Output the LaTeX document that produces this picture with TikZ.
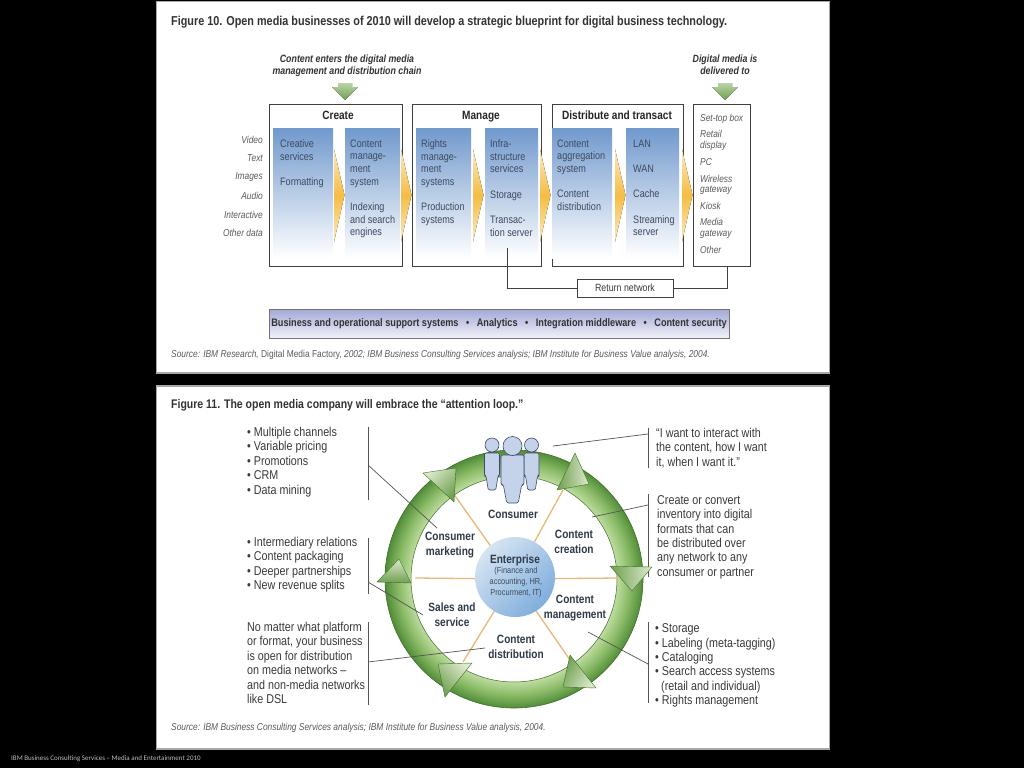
\documentclass[tikz,border=0pt]{standalone}
\usepackage{fontspec}
\setmainfont[FakeStretch=0.84]{Liberation Sans}
\newfontfamily\slidefont{Carlito}
\usetikzlibrary{arrows,positioning,backgrounds}
\definecolor{inkgray}{HTML}{3A3A3A}
\definecolor{softgray}{HTML}{5A5A5A}
\definecolor{rulegray}{HTML}{555555}
\definecolor{panelgray}{HTML}{A8A8A8}
\definecolor{colblue}{HTML}{7199CD}
\definecolor{coltextblue}{HTML}{3D4A60}
\definecolor{barblue}{HTML}{A3A8D6}
\definecolor{spokeorange}{HTML}{E8B878}
\definecolor{chevronmid}{HTML}{F5BC45}
\definecolor{chevronend}{HTML}{FBEBC4}
\definecolor{ringdark}{HTML}{3F6F2C}
\definecolor{ringlight}{HTML}{DCE9CC}
\definecolor{ringmid}{HTML}{6FA050}
\definecolor{labelink}{HTML}{2F3A48}
\definecolor{personblue}{HTML}{C5D3EA}
\definecolor{personline}{HTML}{3C4A66}
\definecolor{corelight}{HTML}{D5E4F2}
\definecolor{coreblue}{HTML}{7FAEDC}
\pgfdeclareradialshading{ringshade}{\pgfpointorigin}{%
  rgb(0bp)=(.74,.86,.62); rgb(20bp)=(.74,.86,.62);
  rgb(22.5bp)=(.54,.73,.40); rgb(25bp)=(.32,.55,.22); rgb(50bp)=(.32,.55,.22)}
\newcommand{\drawperson}[6]{% x, head y, head radius, half width, top y, foot y
  \draw[personstyle, rounded corners=1.5pt] (#1-#4,#5) -- (#1+#4,#5) -- (#1+#4,#5+.62*#6-.62*#5)
    -- (#1+.8*#4,#5+.62*#6-.62*#5) -- (#1+.5*#4,#6) -- (#1-.5*#4,#6)
    -- (#1-.8*#4,#5+.62*#6-.62*#5) -- (#1-#4,#5+.62*#6-.62*#5) -- cycle;
  \draw[personstyle] (#1,#2) circle (#3);
}
\tikzset{
    %Define style for the two panels
    panel/.style={draw=panelgray, line width=1.4pt, fill=white},
    %Define styles for boxes
    stagebox/.style={draw=black!75, line width=.7pt},
    column/.style={shade, top color=colblue, bottom color=white},
    chevron/.style={shade, top color=chevronend, bottom color=chevronend, middle color=chevronmid},
    greenarrow/.style={shade, top color=ringlight!70!ringmid, bottom color=ringmid},
    netbox/.style={draw=black!75, line width=.7pt, fill=white, minimum width=96pt,
           minimum height=18pt, inner sep=0pt, font=\fontsize{10.5}{12}\selectfont, text=inkgray},
    supportbar/.style={draw=black!55, line width=.6pt, shade, top color=barblue, bottom color=barblue!15,
           minimum width=460pt, minimum height=29pt, inner sep=0pt,
           font=\bfseries\fontsize{10.9}{12}\selectfont, text=black!80},
    %Define styles for text
    figtitle/.style={anchor=west, inner sep=0pt, font=\bfseries\fontsize{12.9}{14}\selectfont, text=black!80},
    sourceline/.style={anchor=west, inner sep=0pt, font=\itshape\fontsize{10}{12}\selectfont, text=softgray},
    boxhead/.style={inner sep=0pt, text height=9pt, text depth=2pt, font=\bfseries\fontsize{12}{14}\selectfont, text=black!85},
    entrytext/.style={inner sep=0pt, align=center, font=\bfseries\itshape\fontsize{10.5}{12.3}\selectfont, text=black!80},
    coltext/.style={anchor=north west, inner sep=0pt, align=left, font=\fontsize{10.8}{12.65}\selectfont, text=coltextblue},
    mediatext/.style={anchor=east, inner sep=0pt, font=\itshape\fontsize{10}{12}\selectfont, text=softgray},
    devicetext/.style={anchor=west, inner sep=0pt, font=\itshape\fontsize{10}{12}\selectfont, text=softgray},
    listtext/.style={anchor=north west, inner sep=0pt, align=left, font=\fontsize{12.8}{14.45}\selectfont, text=inkgray},
    ringlabel/.style={inner sep=0pt, align=center, font=\bfseries\fontsize{12}{14.5}\selectfont, text=labelink},
    %Define styles for the loop
    ringarrow/.style={shade, shading=axis, left color=ringlight, right color=ringmid,
           draw=ringdark, line width=.4pt},
    spoke/.style={draw=spokeorange, line width=1.3pt},
    enterprise/.style={circle, minimum size=80pt, inner sep=0pt, shade, shading=axis,
           left color=corelight, right color=coreblue, shading angle=45},
    personstyle/.style={draw=personline, line width=.6pt, fill=personblue},
    leader/.style={draw=rulegray, line width=.7pt}
}
\begin{document}
\begin{tikzpicture}[x=1pt,y=-1pt]
\useasboundingbox (0,0) rectangle (1024,768);
\fill[black] (0,0) rectangle (1024,768);
%Figure 10
\draw[panel] (156.5,1.5) rectangle (829.5,373);
\node[figtitle] (title10) at (171,22) {Figure 10. Open media businesses of 2010 will develop a strategic blueprint for digital business technology.};
\node[entrytext] (enters) at (347,66) {Content enters the digital media\\management and distribution chain};
\node[entrytext] (delivered) at (725,65) {Digital media is\\delivered to};
\foreach \x in {345,725}
  \fill[greenarrow] (\x-7,83) -- (\x+7,83) -- (\x+7,87) -- (\x+13,87) -- (\x,100) -- (\x-13,87) -- (\x-7,87) -- cycle;
%stage boxes
\draw[stagebox] (269,104) rectangle (402,266);
\draw[stagebox] (412,104) rectangle (541,266);
\draw[stagebox] (552,104) rectangle (683,266);
\draw[stagebox] (693,104) rectangle (750,266);
\node[boxhead] (create) at (338,116) {Create};
\node[boxhead] (manage) at (481,116) {Manage};
\node[boxhead] (distribute) at (617,116) {Distribute and transact};
%blue columns
\foreach \xa/\xb in {273/333,345/400,416/471,485/538,552/612,626/679}
  \fill[column] (\xa,128) rectangle (\xb,258);
\foreach \x in {334,401,473,540,615,682}
  \fill[chevron] (\x,149) -- (\x+10.5,195) -- (\x,242) -- cycle;
\node[coltext] (col1) at (280,139.5) {Creative\\services\\[12.65pt]Formatting};
\node[coltext] (col2) at (350,139.5) {Content\\manage-\\ment\\system\\[12.65pt]Indexing\\and search\\engines};
\node[coltext] (col3) at (421,139.5) {Rights\\manage-\\ment\\systems\\[12.65pt]Production\\systems};
\node[coltext] (col4) at (490,139.5) {Infra-\\structure\\services\\[12.65pt]Storage\\[12.65pt]Transac-\\tion server};
\node[coltext] (col5) at (557,139.5) {Content\\aggregation\\system\\[12.65pt]Content\\distribution};
\node[coltext] (col6) at (633,139.5) {LAN\\[12.65pt]WAN\\[12.65pt]Cache\\[12.65pt]Streaming\\server};
%media and devices
\foreach \y/\t in {140/Video,158/Text,177/Images,196/Audio,215/Interactive,233/Other data}
  \node[mediatext] (media\y) at (263,\y) {\t};
\foreach \y/\t in {119/Set-top box,134/Retail,146/display,162/PC,179/Wireless,190/gateway,206/Kiosk,222/Media,234/gateway,250/Other}
  \node[devicetext] (device\y) at (700,\y) {\t};
%return network
\node[netbox] (return) at (625,288) {Return network};
\coordinate (returnin) at (507,248);
\coordinate (returnout) at (727,266);
\draw[stagebox] (returnin) |- (return.west);
\draw[stagebox] (return.east) -| (returnout);
\node[supportbar] (support) at (499,323.5) {Business and operational support systems \hspace{5pt}•\hspace{5pt} Analytics \hspace{5pt}•\hspace{5pt} Integration middleware \hspace{5pt}•\hspace{5pt} Content security};
\node[sourceline] (source10) at (171,355) {Source: IBM Research, {\upshape Digital Media Factory,} 2002; IBM Business Consulting Services analysis; IBM Institute for Business Value analysis, 2004.};
%Figure 11
\draw[panel] (156.5,386) rectangle (829.5,749);
\node[figtitle, font=\bfseries\fontsize{12.5}{14}\selectfont] (title11) at (171,405) {Figure 11. The open media company will embrace the “attention loop.”};
%text blocks
\node[listtext] (channels) at (247,427) {• Multiple channels\\• Variable pricing\\• Promotions\\• CRM\\• Data mining};
\node[listtext] (relations) at (247,537) {• Intermediary relations\\• Content packaging\\• Deeper partnerships\\• New revenue splits};
\node[listtext] (platform) at (247,622) {No matter what platform\\or format, your business\\is open for distribution\\on media networks –\\and non-media networks\\like DSL};
\node[listtext] (quote) at (656,428) {“I want to interact with\\the content, how I want\\it, when I want it.”};
\node[listtext] (convert) at (657,495) {Create or convert\\inventory into digital\\formats that can\\be distributed over\\any network to any\\consumer or partner};
\node[listtext] (storage) at (655,623.5) {• Storage\\• Labeling (meta-tagging)\\• Cataloging\\• Search access systems\\\hspace{6pt}(retail and individual)\\• Rights management};
%rules beside the text
\foreach \x/\ya/\yb/\n in {368/427/500/a,368/538/594/b,368/622/705/c,648/428/468/d,648/494/577/e,648/622/703/f}{
  \coordinate (rule\n top) at (\x,\ya);
  \coordinate (rule\n bot) at (\x,\yb);
  \draw[leader] (rule\n top) -- (rule\n bot);
}
%the loop
\coordinate (hub) at (514,579);
\path[even odd rule, shade, shading=ringshade] (hub) circle (129) (hub) circle (103);
\draw[ringdark, line width=.6pt] (hub) circle (129);
\draw[ringdark, line width=.5pt] (hub) circle (103);
\coordinate (spokeA) at (563,490);
\coordinate (spokeB) at (618,578);
\coordinate (spokeC) at (570,660);
\coordinate (spokeD) at (463,662);
\coordinate (spokeE) at (415,578);
\coordinate (spokeF) at (453,493);
\foreach \n in {A,B,C,D,E,F}
  \draw[spoke] (hub) -- (spoke\n);
\foreach \ax/\ay/\bx/\by/\cx/\cy/\ang in {
    575/453/557/490/589/484/-90,
    610/566/652/567/632/591/-90,
    570/655/596/688/563/687/-120,
    438/664/472/663/445/697/-45,
    377/582/411/583/399/559/0,
    423/473/456/468/454/502/45}
  \path[ringarrow, shading angle=\ang] (\ax,\ay) -- (\bx,\by) -- (\cx,\cy) -- cycle;
\node[enterprise] (core) at (515,577) {};
\node[ringlabel] (consumer) at (513,514) {Consumer};
\node[ringlabel] (creation) at (574,542) {Content\\creation};
\node[ringlabel] (marketing) at (450,545) {Consumer\\marketing};
\node[ringlabel] (management) at (575,608) {Content\\management};
\node[ringlabel] (sales) at (452,614.5) {Sales and\\service};
\node[ringlabel] (distribution) at (516,647) {Content\\distribution};
\node[ringlabel, above=0pt of core.center, yshift=11pt] (enterlabel) {Enterprise};
\node[inner sep=0pt, align=center, font=\fontsize{8.8}{11.2}\selectfont, text=coltextblue] (enterdetail) at (516,582) {(Finance and\\accounting, HR,\\Procurment, IT)};
%people
\drawperson{492}{445}{7}{7.5}{453}{490}
\drawperson{531.5}{445}{7}{7.5}{453}{490}
\drawperson{512.5}{446}{9.5}{11.5}{455}{503}
%leader lines
\coordinate (leadA) at (437,528);
\coordinate (leadB) at (423,615);
\coordinate (leadC) at (485,648);
\coordinate (leadD) at (553,446);
\coordinate (leadE) at (592,517);
\coordinate (leadF) at (588,632);
\coordinate (startA) at (368,465);
\coordinate (startB) at (368,582);
\coordinate (startC) at (368,662);
\coordinate (startD) at (648,434);
\coordinate (startE) at (648,505);
\coordinate (startF) at (648,664);
\foreach \n in {A,B,C,D,E,F}
  \draw[leader] (start\n) -- (lead\n);
\node[figtitle, font=\fontsize{7}{8}\slidefont, text=white!75!black] (slidefoot) at (11,759) {IBM Business Consulting Services – Media and Entertainment 2010};
\node[sourceline] (source11) at (171,728) {Source: IBM Business Consulting Services analysis; IBM Institute for Business Value analysis, 2004.};
\end{tikzpicture}
\end{document}
